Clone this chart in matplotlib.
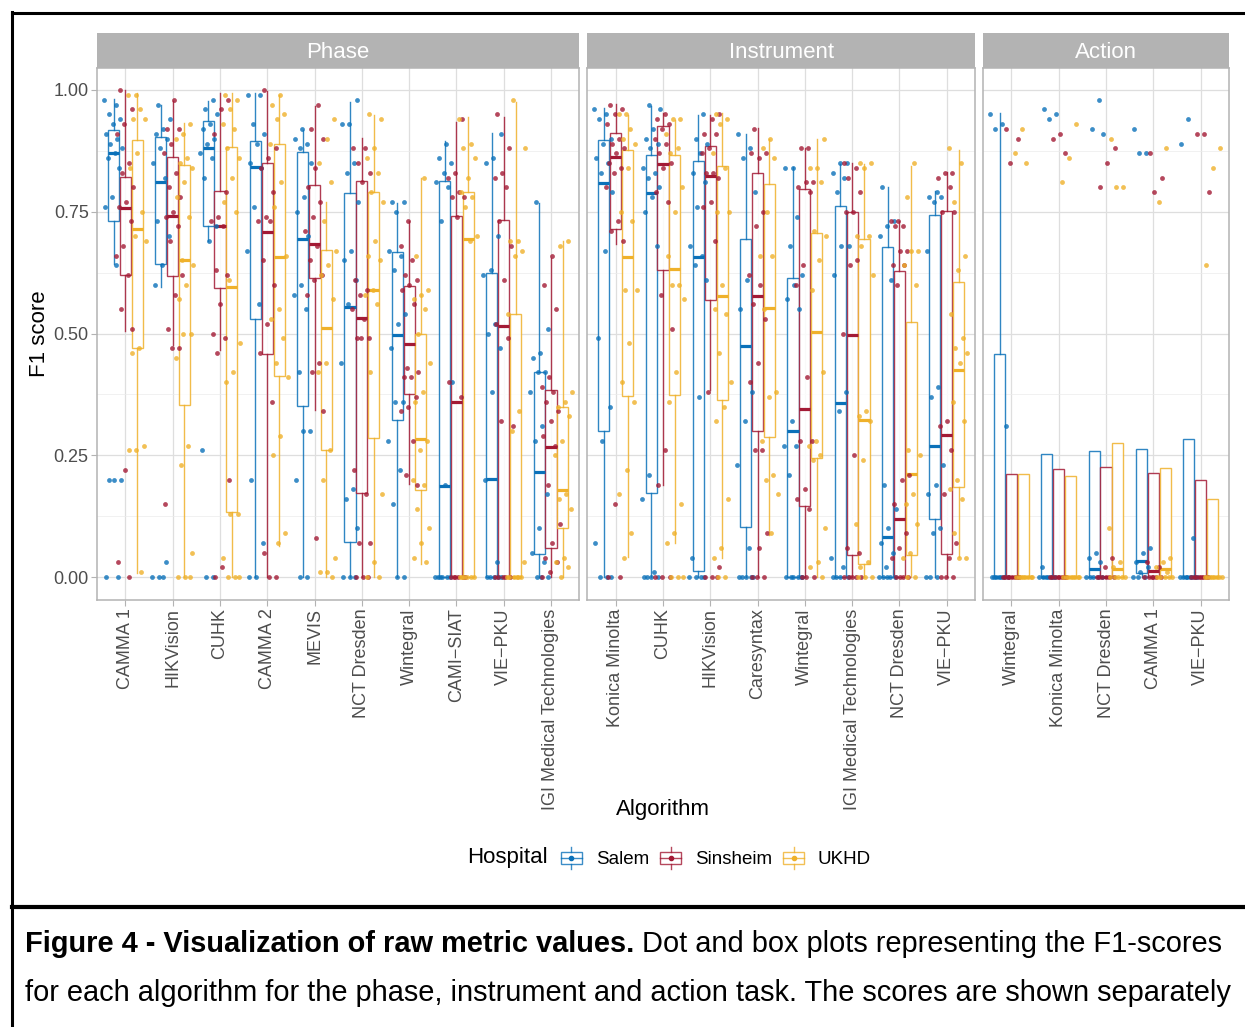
import numpy as np
import matplotlib.pyplot as plt
from matplotlib.lines import Line2D
from matplotlib.patches import Rectangle
from matplotlib.legend_handler import HandlerBase

plt.rcParams['font.family'] = ['Liberation Sans', 'DejaVu Sans']

hospitals = ['Salem', 'Sinsheim', 'UKHD']
colors = ['#0B71B9', '#A31A35', '#EFB12A']

phase_algos = ['CAMMA 1', 'HIKVision', 'CUHK', 'CAMMA 2', 'MEVIS', 'NCT Dresden',
               'Wintegral', 'CAMI\u2212SIAT', 'VIE\u2212PKU', 'IGI Medical Technologies']
instrument_algos = ['Konica Minolta', 'CUHK', 'HIKVision', 'Caresyntax', 'Wintegral',
                    'IGI Medical Technologies', 'NCT Dresden', 'VIE\u2212PKU']
action_algos = ['Wintegral', 'Konica Minolta', 'NCT Dresden', 'CAMMA 1', 'VIE\u2212PKU']

# box stats per algorithm: (lower whisker, q1, median, q3, upper whisker)
phase_salem_box = [(0.643, 0.730, 0.871, 0.917, 0.981), (0.596, 0.643, 0.812, 0.903, 0.969),
                   (0.689, 0.721, 0.880, 0.936, 0.977), (0.0, 0.530, 0.841, 0.895, 0.993),
                   (0.0, 0.351, 0.693, 0.872, 0.917), (0.0, 0.073, 0.555, 0.788, 0.975),
                   (0.0, 0.322, 0.497, 0.667, 0.767), (0.0, 0.0, 0.188, 0.814, 0.895),
                   (0.0, 0.0, 0.201, 0.625, 0.912), (0.0, 0.047, 0.215, 0.421, 0.767)]
phase_sinsheim_box = [(0.506, 0.621, 0.757, 0.822, 0.999), (0.476, 0.618, 0.741, 0.863, 0.978),
                      (0.466, 0.593, 0.721, 0.793, 0.993), (0.0, 0.457, 0.709, 0.849, 0.997),
                      (0.343, 0.614, 0.684, 0.804, 0.966), (0.0, 0.172, 0.532, 0.814, 0.901),
                      (0.191, 0.375, 0.478, 0.598, 0.731), (0.0, 0.0, 0.359, 0.741, 0.935),
                      (0.0, 0.0, 0.515, 0.732, 0.945), (0.0, 0.059, 0.268, 0.385, 0.656)]
phase_ukhd_box = [(0.008, 0.471, 0.714, 0.897, 0.993), (0.0, 0.353, 0.650, 0.845, 0.932),
                  (0.0, 0.134, 0.595, 0.882, 0.993), (0.064, 0.413, 0.658, 0.888, 0.990),
                  (0.0, 0.261, 0.511, 0.672, 0.770), (0.0, 0.286, 0.589, 0.790, 0.949),
                  (0.026, 0.179, 0.283, 0.498, 0.819), (0.0, 0.0, 0.693, 0.790, 0.944),
                  (0.0, 0.0, 0.0, 0.541, 0.975), (0.0, 0.100, 0.179, 0.350, 0.689)]

instrument_salem_box = [(0.0, 0.300, 0.808, 0.897, 0.962), (0.0, 0.173, 0.789, 0.867, 0.966),
                        (0.0, 0.012, 0.658, 0.854, 0.949), (0.0, 0.103, 0.475, 0.694, 0.910),
                        (0.0, 0.0, 0.299, 0.613, 0.841), (0.0, 0.0, 0.357, 0.762, 0.847),
                        (0.0, 0.0, 0.083, 0.678, 0.801), (0.0, 0.120, 0.270, 0.743, 0.793)]
instrument_sinsheim_box = [(0.684, 0.715, 0.863, 0.911, 0.971), (0.189, 0.630, 0.847, 0.926, 0.952),
                           (0.384, 0.569, 0.823, 0.884, 0.949), (0.0, 0.300, 0.578, 0.829, 0.921),
                           (0.0, 0.146, 0.346, 0.797, 0.880), (0.0, 0.045, 0.496, 0.750, 0.849),
                           (0.0, 0.0, 0.119, 0.629, 0.730), (0.0, 0.047, 0.292, 0.752, 0.832)]
instrument_ukhd_box = [(0.042, 0.371, 0.658, 0.876, 0.949), (0.071, 0.373, 0.632, 0.867, 0.938),
                       (0.039, 0.363, 0.578, 0.843, 0.952), (0.086, 0.287, 0.552, 0.806, 0.899),
                       (0.0, 0.244, 0.504, 0.706, 0.899), (0.0, 0.026, 0.322, 0.695, 0.847),
                       (0.0, 0.045, 0.211, 0.524, 0.844), (0.042, 0.184, 0.425, 0.606, 0.877)]

action_salem_box = [(0.0, 0.0, 0.0, 0.458, 0.952), (0.0, 0.0, 0.0, 0.253, 0.253),
                    (0.0, 0.0, 0.016, 0.258, 0.258), (0.0, 0.008, 0.033, 0.262, 0.262),
                    (0.0, 0.0, 0.0, 0.284, 0.284)]
action_sinsheim_box = [(0.0, 0.0, 0.0, 0.212, 0.212), (0.0, 0.0, 0.0, 0.221, 0.221),
                       (0.0, 0.0, 0.0, 0.227, 0.227), (0.0, 0.0, 0.012, 0.214, 0.214),
                       (0.0, 0.0, 0.0, 0.199, 0.199)]
action_ukhd_box = [(0.0, 0.0, 0.0, 0.212, 0.212), (0.0, 0.0, 0.0, 0.207, 0.207),
                   (0.0, 0.0, 0.016, 0.276, 0.276), (0.0, 0.0, 0.016, 0.223, 0.223),
                   (0.0, 0.0, 0.0, 0.161, 0.161)]

# single scores (dots)
phase_salem_pts = [
    [0.98, 0.97, 0.95, 0.94, 0.93, 0.91, 0.90, 0.89, 0.88, 0.87, 0.86, 0.84, 0.78, 0.76, 0.64, 0.20, 0.20, 0.20, 0, 0],
    [0.97, 0.94, 0.92, 0.91, 0.90, 0.88, 0.85, 0.82, 0.73, 0.70, 0.64, 0.60, 0.03, 0, 0, 0],
    [0.98, 0.96, 0.95, 0.93, 0.92, 0.90, 0.89, 0.87, 0.86, 0.82, 0.72, 0.69, 0.26, 0, 0],
    [0.99, 0.99, 0.93, 0.91, 0.89, 0.85, 0.84, 0.76, 0.67, 0.56, 0.20, 0.07, 0, 0],
    [0.92, 0.90, 0.89, 0.88, 0.85, 0.78, 0.75, 0.70, 0.60, 0.58, 0.55, 0.42, 0.30, 0.30, 0.20, 0, 0],
    [0.98, 0.93, 0.93, 0.85, 0.83, 0.77, 0.67, 0.65, 0.61, 0.56, 0.44, 0.18, 0.16, 0.10, 0, 0, 0],
    [0.77, 0.77, 0.75, 0.67, 0.66, 0.63, 0.54, 0.52, 0.47, 0.36, 0.36, 0.28, 0.22, 0.15, 0, 0],
    [0.89, 0.86, 0.85, 0.83, 0.81, 0.80, 0.73, 0.40, 0.19, 0, 0, 0, 0, 0, 0],
    [0.91, 0.86, 0.85, 0.70, 0.63, 0.62, 0.52, 0.50, 0.47, 0.38, 0.20, 0.03, 0, 0, 0, 0, 0],
    [0.77, 0.51, 0.46, 0.45, 0.42, 0.42, 0.38, 0.31, 0.28, 0.17, 0.10, 0.05, 0.03, 0, 0, 0]]
phase_sinsheim_pts = [
    [1.0, 0.96, 0.93, 0.91, 0.85, 0.83, 0.80, 0.77, 0.76, 0.73, 0.68, 0.66, 0.62, 0.55, 0.51, 0.22, 0.03, 0],
    [0.98, 0.92, 0.92, 0.89, 0.87, 0.83, 0.80, 0.78, 0.75, 0.74, 0.72, 0.69, 0.62, 0.58, 0.51, 0.47, 0.47, 0.15],
    [0.98, 0.96, 0.91, 0.79, 0.74, 0.73, 0.72, 0.63, 0.62, 0.56, 0.50, 0.49, 0.46, 0.20, 0.02, 0],
    [1.0, 0.88, 0.86, 0.84, 0.79, 0.74, 0.73, 0.73, 0.65, 0.60, 0.52, 0.46, 0.36, 0.05, 0, 0],
    [0.97, 0.92, 0.90, 0.84, 0.80, 0.77, 0.74, 0.71, 0.68, 0.65, 0.62, 0.61, 0.58, 0.44, 0.42, 0.34, 0.08],
    [0.88, 0.88, 0.85, 0.83, 0.81, 0.61, 0.59, 0.58, 0.55, 0.53, 0.49, 0.49, 0.49, 0.22, 0.17, 0.07, 0.07, 0, 0, 0],
    [0.73, 0.68, 0.65, 0.62, 0.61, 0.60, 0.59, 0.56, 0.43, 0.42, 0.41, 0.41, 0.37, 0.35, 0.34, 0.28, 0.21, 0.19],
    [0.94, 0.83, 0.82, 0.79, 0.78, 0.78, 0.74, 0.40, 0.37, 0, 0, 0, 0, 0, 0],
    [0.95, 0.88, 0.83, 0.82, 0.80, 0.73, 0.68, 0.61, 0.52, 0.49, 0.32, 0.31, 0, 0, 0, 0, 0],
    [0.66, 0.60, 0.55, 0.41, 0.39, 0.38, 0.36, 0.34, 0.32, 0.29, 0.27, 0.19, 0.11, 0.07, 0.04, 0.03, 0.01, 0]]
phase_ukhd_pts = [
    [0.99, 0.99, 0.96, 0.94, 0.94, 0.87, 0.84, 0.75, 0.70, 0.69, 0.47, 0.46, 0.27, 0.26, 0.26, 0.01],
    [0.93, 0.91, 0.90, 0.86, 0.85, 0.84, 0.81, 0.78, 0.74, 0.65, 0.64, 0.60, 0.57, 0.50, 0.50, 0.45, 0.27, 0.23, 0.05, 0, 0, 0],
    [0.99, 0.98, 0.96, 0.93, 0.92, 0.88, 0.86, 0.82, 0.77, 0.75, 0.61, 0.48, 0.42, 0.40, 0.13, 0.13, 0.04, 0, 0, 0],
    [0.99, 0.97, 0.95, 0.94, 0.89, 0.81, 0.76, 0.66, 0.55, 0.53, 0.49, 0.44, 0.41, 0.29, 0.25, 0.09, 0.07],
    [0.94, 0.90, 0.85, 0.81, 0.73, 0.67, 0.64, 0.62, 0.57, 0.44, 0.42, 0.26, 0.20, 0.04, 0.01, 0.01, 0],
    [0.95, 0.94, 0.88, 0.86, 0.83, 0.79, 0.77, 0.69, 0.66, 0.65, 0.59, 0.58, 0.56, 0.42, 0.17, 0.03, 0, 0],
    [0.82, 0.66, 0.59, 0.58, 0.57, 0.55, 0.50, 0.44, 0.38, 0.36, 0.28, 0.26, 0.20, 0.19, 0.14, 0.10, 0.07, 0.04, 0.03],
    [0.94, 0.89, 0.88, 0.86, 0.82, 0.79, 0.78, 0.76, 0.70, 0.69, 0, 0, 0, 0, 0, 0],
    [0.98, 0.88, 0.69, 0.69, 0.67, 0.66, 0.54, 0.34, 0.30, 0.03, 0, 0, 0, 0, 0, 0],
    [0.69, 0.68, 0.38, 0.36, 0.35, 0.33, 0.28, 0.25, 0.17, 0.16, 0.14, 0.04, 0.03, 0.02, 0]]

instrument_salem_pts = [
    [0.96, 0.95, 0.94, 0.90, 0.89, 0.86, 0.85, 0.83, 0.79, 0.67, 0.49, 0.35, 0.28, 0.07, 0, 0, 0],
    [0.97, 0.96, 0.92, 0.90, 0.89, 0.88, 0.84, 0.83, 0.82, 0.80, 0.78, 0.75, 0.68, 0.21, 0.16, 0.01, 0, 0, 0, 0],
    [0.95, 0.90, 0.89, 0.87, 0.83, 0.81, 0.76, 0.68, 0.66, 0.64, 0.61, 0.37, 0.04, 0, 0, 0, 0],
    [0.91, 0.88, 0.86, 0.79, 0.61, 0.55, 0.38, 0.32, 0.23, 0.06, 0, 0, 0, 0, 0],
    [0.84, 0.84, 0.74, 0.68, 0.62, 0.60, 0.57, 0.55, 0.32, 0.27, 0.27, 0.21, 0, 0, 0, 0, 0, 0],
    [0.85, 0.85, 0.83, 0.82, 0.79, 0.68, 0.68, 0.62, 0.38, 0.34, 0.04, 0.02, 0, 0, 0, 0],
    [0.80, 0.73, 0.72, 0.70, 0.61, 0.19, 0.14, 0.10, 0.07, 0.05, 0.02, 0, 0, 0, 0, 0],
    [0.79, 0.78, 0.78, 0.77, 0.67, 0.39, 0.37, 0.23, 0.19, 0.17, 0.10, 0.09, 0, 0, 0]]
instrument_sinsheim_pts = [
    [0.97, 0.96, 0.95, 0.93, 0.90, 0.89, 0.88, 0.87, 0.85, 0.84, 0.83, 0.80, 0.73, 0.71, 0.69, 0.15, 0, 0],
    [0.95, 0.94, 0.93, 0.92, 0.90, 0.89, 0.87, 0.85, 0.84, 0.79, 0.77, 0.58, 0.51, 0.26, 0.19, 0, 0, 0],
    [0.95, 0.94, 0.91, 0.91, 0.88, 0.87, 0.83, 0.83, 0.82, 0.77, 0.76, 0.69, 0.38, 0.02, 0, 0, 0],
    [0.92, 0.87, 0.86, 0.87, 0.75, 0.72, 0.62, 0.60, 0.56, 0.53, 0.44, 0.40, 0.26, 0.26, 0.09, 0.06, 0, 0, 0],
    [0.88, 0.88, 0.81, 0.81, 0.80, 0.79, 0.64, 0.60, 0.41, 0.28, 0.28, 0.18, 0.16, 0.14, 0, 0, 0],
    [0.85, 0.84, 0.82, 0.79, 0.75, 0.75, 0.65, 0.64, 0.50, 0.25, 0.06, 0.05, 0, 0, 0, 0, 0],
    [0.73, 0.73, 0.72, 0.72, 0.67, 0.67, 0.64, 0.64, 0.60, 0.21, 0.20, 0.15, 0.09, 0.06, 0.04, 0, 0, 0, 0],
    [0.83, 0.83, 0.82, 0.80, 0.75, 0.75, 0.32, 0.31, 0.26, 0.17, 0.07, 0.04, 0, 0, 0]]
instrument_ukhd_pts = [
    [0.95, 0.95, 0.92, 0.90, 0.89, 0.84, 0.75, 0.73, 0.59, 0.59, 0.48, 0.40, 0.36, 0.22, 0.17, 0.09, 0.04],
    [0.94, 0.94, 0.91, 0.88, 0.87, 0.80, 0.75, 0.66, 0.60, 0.60, 0.57, 0.42, 0.36, 0.15, 0.09, 0.07, 0, 0, 0],
    [0.95, 0.94, 0.93, 0.87, 0.84, 0.75, 0.75, 0.60, 0.55, 0.54, 0.46, 0.40, 0.35, 0.32, 0.16, 0.06, 0.04, 0, 0],
    [0.90, 0.88, 0.86, 0.75, 0.66, 0.66, 0.55, 0.38, 0.37, 0.28, 0.21, 0.20, 0.17, 0.09],
    [0.90, 0.84, 0.84, 0.81, 0.71, 0.70, 0.65, 0.59, 0.42, 0.28, 0.27, 0.25, 0.24, 0.10, 0.03, 0.02, 0],
    [0.85, 0.85, 0.84, 0.70, 0.70, 0.68, 0.62, 0.34, 0.33, 0.32, 0.24, 0.11, 0.03, 0.02, 0, 0, 0],
    [0.85, 0.78, 0.67, 0.67, 0.64, 0.60, 0.26, 0.25, 0.17, 0.15, 0.11, 0.05, 0.04, 0, 0],
    [0.88, 0.85, 0.77, 0.66, 0.63, 0.54, 0.49, 0.47, 0.46, 0.44, 0.36, 0.32, 0.20, 0.18, 0.16, 0.09, 0.04, 0.04]]

action_salem_pts = [
    [0.95, 0.93, 0.92, 0.31, 0, 0, 0, 0, 0, 0, 0],
    [0.96, 0.95, 0.94, 0.02, 0, 0, 0, 0, 0, 0, 0],
    [0.98, 0.92, 0.91, 0.05, 0.04, 0.03, 0, 0, 0, 0, 0],
    [0.92, 0.87, 0.87, 0.06, 0.05, 0.03, 0.02, 0.01, 0, 0, 0],
    [0.94, 0.89, 0.08, 0, 0, 0, 0, 0, 0, 0, 0]]
action_sinsheim_pts = [
    [0.92, 0.90, 0.85, 0, 0, 0, 0, 0, 0, 0, 0],
    [0.91, 0.90, 0.87, 0, 0, 0, 0, 0, 0, 0, 0],
    [0.88, 0.85, 0.80, 0.04, 0.02, 0, 0, 0, 0, 0, 0],
    [0.87, 0.82, 0.79, 0.03, 0.02, 0, 0, 0, 0, 0, 0],
    [0.91, 0.91, 0.79, 0, 0, 0, 0, 0, 0, 0, 0]]
action_ukhd_pts = [
    [0.92, 0.87, 0.85, 0, 0, 0, 0, 0, 0, 0, 0],
    [0.93, 0.86, 0.81, 0, 0, 0, 0, 0, 0, 0, 0],
    [0.90, 0.80, 0.80, 0.10, 0.03, 0.02, 0, 0, 0, 0, 0],
    [0.88, 0.77, 0.04, 0.03, 0.02, 0.01, 0, 0, 0, 0, 0],
    [0.88, 0.84, 0.64, 0, 0, 0, 0, 0, 0, 0, 0]]

panels = [
    ('Phase', phase_algos, [phase_salem_box, phase_sinsheim_box, phase_ukhd_box],
     [phase_salem_pts, phase_sinsheim_pts, phase_ukhd_pts]),
    ('Instrument', instrument_algos, [instrument_salem_box, instrument_sinsheim_box, instrument_ukhd_box],
     [instrument_salem_pts, instrument_sinsheim_pts, instrument_ukhd_pts]),
    ('Action', action_algos, [action_salem_box, action_sinsheim_box, action_ukhd_box],
     [action_salem_pts, action_sinsheim_pts, action_ukhd_pts]),
]

W, H = 1245, 1027
fig = plt.figure(figsize=(W / 100, H / 100), dpi=100)


def px_rect(x0, y0, x1, y1):
    return [x0 / W, 1 - y1 / H, (x1 - x0) / W, (y1 - y0) / H]


grey70 = '#B3B3B3'
offsets = [-0.25, 0.0, 0.25]
gap = 8
unit = (1229 - 97 - 2 * gap) / sum(len(p[1]) + 0.2 for p in panels)

x0 = 97
for k, (title, algos, boxes, pts) in enumerate(panels):
    n = len(algos)
    w = unit * (n + 0.2)
    ax = fig.add_axes(px_rect(x0, 68, x0 + w, 600))
    sax = fig.add_axes(px_rect(x0, 33, x0 + w, 68))
    x0 += w + gap

    # strip header
    sax.set_facecolor(grey70)
    sax.set_xticks([])
    sax.set_yticks([])
    for s in sax.spines.values():
        s.set_visible(False)
    sax.text(0.5, 0.44, title, color='white', fontsize=16, ha='center', va='center',
             transform=sax.transAxes)

    pos = np.arange(n)
    for h in range(3):
        c = colors[h]
        stats = [dict(whislo=b[0], q1=b[1], med=b[2], q3=b[3], whishi=b[4]) for b in boxes[h]]
        ax.bxp(stats, positions=pos + offsets[h], widths=0.235, showcaps=False, showfliers=False,
               patch_artist=True, manage_ticks=False,
               boxprops=dict(facecolor='white', edgecolor=c, linewidth=1.0, alpha=0.85),
               whiskerprops=dict(color=c, linewidth=1.0, alpha=0.85),
               medianprops=dict(color=c, linewidth=2.3, solid_capstyle='butt'))

    for h in range(3):
        for i, vals in enumerate(pts[h]):
            vals = np.array(vals, dtype=float)
            jit = ((np.arange(len(vals)) * 0.618034 + i * 0.37 + h * 0.21) % 1 - 0.5) * 0.4
            ax.scatter(i + offsets[h] + jit, vals, s=12, color=colors[h], alpha=0.8,
                       linewidths=0, zorder=4)

    ax.set_xlim(-0.6, n - 0.4)
    ax.set_ylim(-0.047, 1.045)
    ax.set_xticks(pos)
    ax.set_xticklabels(algos, rotation=90, ha='center', va='top')
    ax.set_yticks([0, 0.25, 0.5, 0.75, 1.0])
    ax.set_yticklabels(['0.00', '0.25', '0.50', '0.75', '1.00'])
    ax.set_yticks([0.125, 0.375, 0.625, 0.875], minor=True)
    ax.grid(which='major', color='#DEDEDE', linewidth=0.9)
    ax.grid(which='minor', axis='y', color='#EBEBEB', linewidth=0.5)
    ax.set_axisbelow(True)
    for s in ax.spines.values():
        s.set_color(grey70)
        s.set_linewidth(1.1)
    ax.tick_params(which='both', color=grey70, length=4, width=0.8, labelcolor='#4D4D4D',
                   labelsize=13, pad=2)
    ax.tick_params(which='minor', length=0)
    if k > 0:
        ax.tick_params(axis='y', which='both', length=0, labelleft=False)

fig.text(40 / W, 1 - 334 / H, 'F1 score', rotation=90, ha='center', va='center', fontsize=16)
fig.text(663 / W, 1 - 810 / H, 'Algorithm', ha='center', va='center', fontsize=16)


# ggplot style box key for the legend
class BoxKey(HandlerBase):
    def create_artists(self, legend, orig_handle, xdescent, ydescent, width, height,
                       fontsize, trans):
        c = orig_handle.get_color()
        x_l, y_b = -xdescent, -ydescent
        cx, cy = x_l + width / 2, y_b + height / 2
        rect = Rectangle((x_l, y_b + height * 0.2), width, height * 0.6, facecolor='white',
                         edgecolor=c, linewidth=1.0, alpha=0.8, transform=trans)
        lo = Line2D([cx, cx], [y_b, y_b + height * 0.2], color=c, lw=1.0, alpha=0.8, transform=trans)
        hi = Line2D([cx, cx], [y_b + height * 0.8, y_b + height], color=c, lw=1.0, alpha=0.8,
                    transform=trans)
        med = Line2D([x_l, x_l + width], [cy, cy], color=c, lw=1.0, alpha=0.8, transform=trans)
        dot = Line2D([cx], [cy], marker='o', markersize=3, color=c, linestyle='none', transform=trans)
        return [rect, lo, hi, med, dot]


handles = [Line2D([], [], color=c) for c in colors]
fig.text(467 / W, 1 - 858 / H, 'Hospital', ha='left', va='center', fontsize=16)
fig.legend(handles, hospitals, handler_map={Line2D: BoxKey()}, loc='center left',
           bbox_to_anchor=(561 / W, 1 - 858 / H), ncol=3, frameon=False, fontsize=13.5,
           handlelength=1.1, handleheight=1.35, handletextpad=0.75, columnspacing=0.6,
           borderpad=0, borderaxespad=0)

# frame and caption
fig.add_artist(Line2D([12 / W, 12 / W], [0, 1 - 12 / H], color='black', lw=2.2,
                      transform=fig.transFigure))
fig.add_artist(Line2D([12 / W, 1], [1 - 13 / H, 1 - 13 / H], color='black', lw=2.2,
                      transform=fig.transFigure))
fig.add_artist(Line2D([12 / W, 1], [1 - 907 / H, 1 - 907 / H], color='black', lw=3,
                      transform=fig.transFigure))

cap_bold = 'Figure 4 - Visualization of raw metric values.'
cap_rest = ' Dot and box plots representing the F1-scores'
cap_line2 = 'for each algorithm for the phase, instrument and action task. The scores are shown separately'

fig.canvas.draw()
r = fig.canvas.get_renderer()
t2 = fig.text(25 / W, 1 - 1001 / H, cap_line2, fontsize=19, va='baseline', ha='left')
wpx = t2.get_window_extent(r).width
fs = 19 * (1212 / wpx)
t2.set_fontsize(fs)
t1 = fig.text(25 / W, 1 - 952 / H, cap_bold, fontsize=fs, fontweight='bold', va='baseline', ha='left')
x_end = t1.get_window_extent(r).x1
fig.text(x_end / W, 1 - 952 / H, cap_rest, fontsize=fs, va='baseline', ha='left')

fig.savefig('out.png', dpi=100)
